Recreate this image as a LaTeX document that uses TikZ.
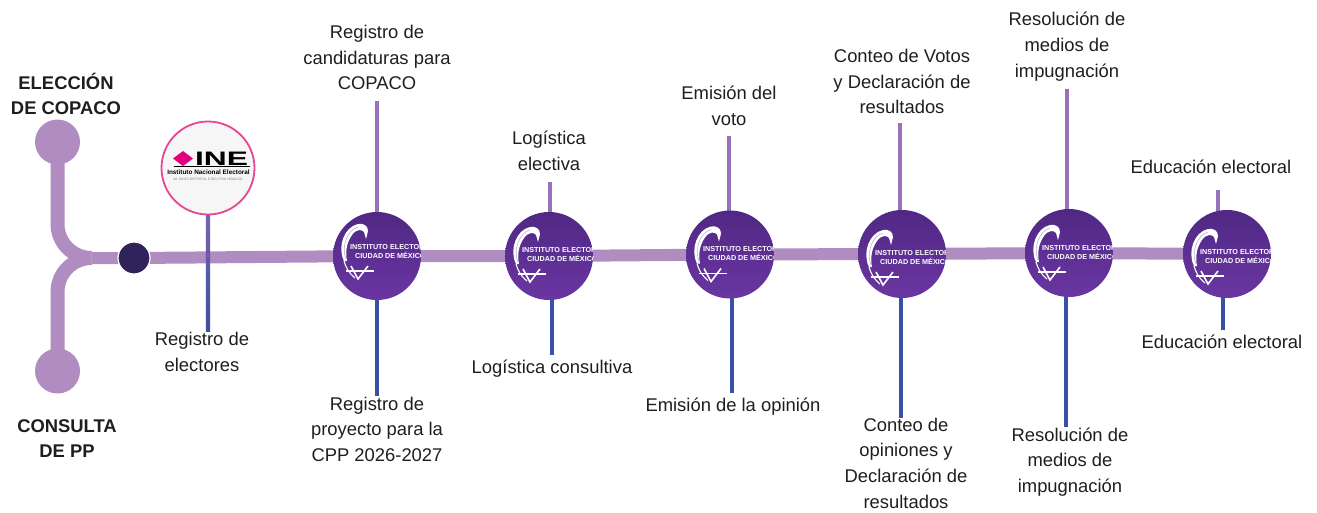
\documentclass[tikz,border=0pt]{standalone}
\usepackage{fontspec}
\setmainfont{Liberation Sans}
\usetikzlibrary{calc}
\definecolor{barpurple}{RGB}{176,140,192}
\definecolor{dotpurple}{RGB}{48,34,90}
\definecolor{circtop}{RGB}{80,40,132}
\definecolor{circbot}{RGB}{106,54,162}
\definecolor{stemup}{RGB}{152,112,188}
\definecolor{stemdown}{RGB}{56,80,166}
\definecolor{inestemtop}{RGB}{122,98,178}
\definecolor{inepink}{RGB}{230,70,145}
\definecolor{inemag}{RGB}{228,0,124}
\definecolor{inefill}{RGB}{246,246,246}
\definecolor{txt}{RGB}{30,30,30}
\definecolor{logoshade}{RGB}{190,180,205}
\newcommand\iecmlogo[2]{%
\begin{scope}
\clip (#1.center) circle[radius=44];
\begin{scope}[shift={(#1.center)}]
\begin{scope}[shift={(0,#2)}]
\fill[white] (-33,14) .. controls (-40,0) and (-33,-20) .. (-19,-23) .. controls (-13,-24) and (-9,-21) .. (-9,-16) -- (-11,-8) -- (-13,-15) .. controls (-15,-18) and (-21,-18) .. (-25,-12) .. controls (-30,-5) and (-32,4) .. (-30,14) -- cycle;
\draw[draw=logoshade, line width=0.6pt] (-31,12) .. controls (-36,0) and (-30,-17) .. (-19,-20);
\draw[logoline, line width=1.1] (-33,14) .. controls (-31,21) and (-28,26) .. (-22,31);
\draw[logoline, line width=1.4] (-31,24) -- (-3,24);
\draw[logoline, line width=1.6] (-26,19) -- (-19,32) -- (-9,19);
\node[logotxt] (#1-a) at (-27,0) {INSTITUTO ELECTORAL};
\node[logotxt] (#1-b) at (-22,8) {CIUDAD DE MÉXICO};
\end{scope}\end{scope}\end{scope}}
\begin{document}
\begin{tikzpicture}[x=1pt,y=-1pt,
  lbl/.style={font=\fontsize{18.4}{25.8}\selectfont, text=txt, align=center, inner sep=0pt,
    execute at begin node=\strut, execute at end node=\strut},
  blbl/.style={lbl, font=\bfseries\fontsize{18.4}{25}\selectfont},
  bar/.style={draw=barpurple, line width=12pt},
  branch/.style={draw=barpurple, line width=14pt},
  endcirc/.style={circle, fill=barpurple, minimum size=45pt, inner sep=0pt},
  dotcirc/.style={circle, fill=dotpurple, draw=white, line width=1.2pt, minimum size=32pt, inner sep=0pt},
  iecm/.style={circle, minimum size=88pt, inner sep=0pt, top color=circtop, bottom color=circbot, draw=none},
  stemtop/.style={draw=stemup, line width=4.2pt},
  stembot/.style={draw=stemdown, line width=4.2pt},
  logoline/.style={draw=white},
  logotxt/.style={font=\bfseries\fontsize{7.2}{8}\selectfont, text=white, anchor=west, inner sep=0pt},
  inecirc/.style={circle, fill=inefill, draw=inepink, line width=1.8pt, minimum size=93pt, inner sep=0pt}
]
\useasboundingbox (0,0) rectangle (1317,512);
% positions
\coordinate (ptop) at (57.5,142);
\coordinate (pbot) at (57.5,371);
\coordinate (jn) at (91.5,258);
\coordinate (pdot) at (134,258);
\coordinate (p1) at (377,256);
\coordinate (p2) at (549,256);
\coordinate (p3) at (730,254.5);
\coordinate (p4) at (902,254);
\coordinate (p5) at (1069,253);
\coordinate (p6) at (1227,254);
% labels
\node[blbl] (elec) at (66,97.5) {ELECCIÓN\\DE COPACO};
\node[blbl] (cons) at (67,442.5) {CONSULTA\\DE PP};
\node[lbl] (t1) at (377,61.3) {Registro de\\candidaturas para\\COPACO};
\node[lbl] (t2) at (549,154.8) {Logística\\electiva};
\node[lbl] (t3) at (729,109.3) {Emisión del\\voto};
\node[lbl] (t4) at (902,85.3) {Conteo de Votos\\y Declaración de\\resultados};
\node[lbl] (t5) at (1067,48.3) {Resolución de\\medios de\\impugnación};
\node[lbl] (t6) at (1211,168.3) {Educación electoral};
\node[lbl] (b0) at (202,355.5) {Registro de\\electores};
\node[lbl] (b1) at (377,433) {Registro de\\proyecto para la\\CPP 2026-2027};
\node[lbl] (b2) at (552,368.3) {Logística consultiva};
\node[lbl] (b3) at (733,406.3) {Emisión de la opinión};
\node[lbl] (b4) at (906,467) {Conteo de\\opiniones y\\Declaración de\\resultados};
\node[lbl] (b5) at (1070,464) {Resolución de\\medios de\\impugnación};
\node[lbl] (b6) at (1222,343.3) {Educación electoral};
% bar and branches
\draw[bar] (jn) -- (pdot) -- (p1) -- (p2) -- (p3) -- (p4) -- (p5) -- (p6);
\draw[branch] (ptop) -- (57.5,224) .. controls (57.5,242.8) and (72.7,258) .. (jn);
\draw[branch] (pbot) -- (57.5,292) .. controls (57.5,273.2) and (72.7,258) .. (jn);
% stems
\draw[stemtop, shorten >=3pt] (p1) -- (p1 |- t1.south);
\draw[stemtop, shorten >=3pt] ([xshift=1pt]p2) -- ([xshift=1pt]p2 |- t2.south);
\draw[stemtop, shorten >=3pt] ([xshift=-1pt]p3) -- ([xshift=-1pt]p3 |- t3.south);
\draw[stemtop, shorten >=1pt] ([xshift=-2pt]p4) -- ([xshift=-2pt]p4 |- t4.south);
\draw[stemtop, shorten >=4pt] ([xshift=-2pt]p5) -- ([xshift=-2pt]p5 |- t5.south);
\draw[stemtop, shorten >=9pt] ([xshift=-9pt]p6) -- ([xshift=-9pt]p6 |- t6.south);
\draw[stembot] (p1) -- (p1 |- b1.north);
\draw[stembot] ([xshift=3pt]p2) -- ([xshift=3pt]p2 |- b2.north);
\draw[stembot] ([xshift=2pt]p3) -- ([xshift=2pt]p3 |- b3.north);
\draw[stembot] ([xshift=-1pt]p4) -- ([xshift=-1pt]p4 |- b4.north);
\draw[stembot] ([xshift=-3pt]p5) -- ([xshift=-3pt]p5 |- b5.north);
\draw[stembot] ([xshift=-4pt]p6) -- ([xshift=-4pt]p6 |- b6.north);
% circles
\node[endcirc] (ec) at (ptop) {};
\node[endcirc] (cc) at (pbot) {};
\node[dotcirc] (dot) at (pdot) {};
\node[iecm] (c1) at (p1) {};
\node[iecm] (c2) at (p2) {};
\node[iecm] (c3) at (p3) {};
\node[iecm] (c4) at (p4) {};
\node[iecm] (c5) at (p5) {};
\node[iecm] (c6) at (p6) {};
\iecmlogo{c1}{-9}
\iecmlogo{c2}{-6}
\iecmlogo{c3}{-5}
\iecmlogo{c4}{-1}
\iecmlogo{c5}{-5}
\iecmlogo{c6}{-2}
% INE
\node[inecirc] (ine) at (208,168) {};
\shade[top color=inestemtop, bottom color=stemdown] ($(ine.south)+(-2.1,0)$) rectangle ($(ine.south |- b0.north)+(2.1,0)$);
\fill[inemag] (173,158.5) -- (183,151) -- (193,158.5) -- (183,166) -- cycle;
\node[font=\bfseries\fontsize{19.5}{20}\selectfont, inner sep=0pt] (ineword) at (221.5,158.3) {\scalebox{1.63}[1]{INE}};
\draw[black, line width=0.8pt] (173.5,166.6) -- (249.5,166.6);
\node[font=\bfseries\fontsize{6.4}{7}\selectfont, inner sep=0pt] (inename) at (208.5,171.8) {Instituto Nacional Electoral};
\node[font=\fontsize{3.4}{4}\selectfont, text=gray, inner sep=0pt] (inesub) at (208,179.5) {08 JUNTA DISTRITAL EJECUTIVA HIDALGO};
\end{tikzpicture}
\end{document}
